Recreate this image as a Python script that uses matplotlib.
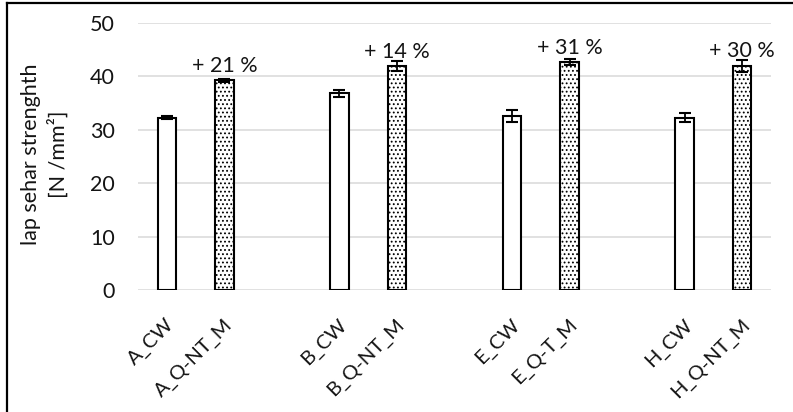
import matplotlib
matplotlib.use("Agg")
import matplotlib.pyplot as plt
from matplotlib.lines import Line2D
from matplotlib.transforms import ScaledTranslation

plt.rcParams['font.family'] = ['Lato', 'DejaVu Sans']
plt.rcParams['hatch.linewidth'] = 0.8

# Specimen groups (blank slots separate the adhesive systems)
labels = ["A_CW", "A_Q-NT_M", "B_CW", "B_Q-NT_M", "E_CW", "E_Q-T_M", "H_CW", "H_Q-NT_M"]
slots = [0, 1, 3, 4, 6, 7, 9, 10]
strength = [32.3, 39.3, 36.8, 41.9, 32.6, 42.7, 32.3, 42.0]
errors = [0.3, 0.3, 0.65, 0.9, 1.1, 0.6, 0.9, 1.1]
hatched = [False, True, False, True, False, True, False, True]
gains = ["+ 21 %", "+ 14 %", "+ 31 %", "+ 30 %"]
y_ticks = [0, 10, 20, 30, 40, 50]

FS = 15.5
TXT = "#141414"

W, H = 793, 412
fig = plt.figure(figsize=(W / 100, H / 100), dpi=100)
ax = fig.add_axes([138 / W, 1 - 290 / H, (771 - 138) / W, (290 - 23) / H])

for x, v, h in zip(slots, strength, hatched):
    ax.bar(x, v, width=0.32, facecolor="white", edgecolor="black",
           linewidth=1.5, hatch="...." if h else None, zorder=3)

ax.errorbar(slots, strength, yerr=errors, fmt="none", ecolor="black",
            elinewidth=1.3, capsize=4, capthick=1.5, zorder=4)

# percentage gain above each treated bar
treated = [(x, v) for x, v, h in zip(slots, strength, hatched) if h]
for (x, v), g in zip(treated, gains):
    ax.annotate(g, xy=(x, v), xytext=(0, 6), textcoords="offset points",
                ha="center", va="baseline", fontsize=FS, color=TXT)

ax.set_xlim(-0.5, 10.5)
ax.set_ylim(0, 50)
ax.set_yticks(y_ticks)
ax.set_yticklabels([str(t) for t in y_ticks], fontsize=FS, color=TXT)
ax.tick_params(axis="y", length=0, pad=16.5)
ax.yaxis.grid(True, color="#d9d9d9", linewidth=1.1, zorder=0)
ax.set_axisbelow(True)
for s in ax.spines.values():
    s.set_visible(False)

ax.set_xticks(slots)
ax.set_xticklabels(labels, rotation=45, ha="right", va="center",
                   rotation_mode="anchor", fontsize=14.5, color=TXT)
ax.tick_params(axis="x", length=0, pad=23)
shift = ScaledTranslation(3.5 / 72, 0, fig.dpi_scale_trans)
for lab in ax.get_xticklabels():
    lab.set_transform(lab.get_transform() + shift)

fig.text(45 / W, 1 - 154 / H, "lap sehar strenghth\n[N /mm²]", rotation=90,
         ha="center", va="center", multialignment="center", fontsize=FS,
         color=TXT, linespacing=1.4)

# outer frame
fig.add_artist(Line2D([7.3 / W, 7.3 / W], [0, 1 - 3.3 / H], transform=fig.transFigure,
                      color="black", linewidth=1.6))
fig.add_artist(Line2D([7.3 / W, 1.0], [1 - 3.3 / H, 1 - 3.3 / H], transform=fig.transFigure,
                      color="black", linewidth=1.6))

fig.savefig("out.png", dpi=100)
